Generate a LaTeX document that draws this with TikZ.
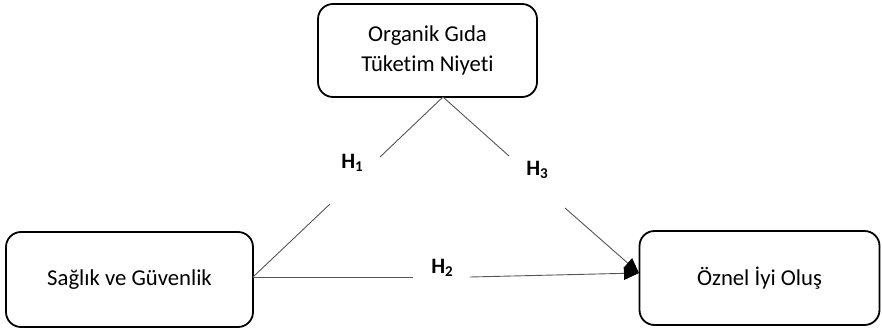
\documentclass[tikz,border=0pt]{standalone}
\usepackage{fontspec}
\setmainfont{Carlito}[Ligatures=NoCommon]
\usetikzlibrary{arrows.meta}
\definecolor{linegray}{RGB}{85,85,85}
\tikzset{
  box/.style={draw=black, line width=1.8pt, rounded corners=15pt, align=center, inner sep=0pt,
    font=\fontsize{22.7}{30}\selectfont},
  conn/.style={draw=linegray, line width=0.9pt},
  arr/.style={conn, -{Triangle[length=15pt,width=13pt,color=black,fill=black]}},
  hlabel/.style={font=\fontsize{22}{26}\selectfont\bfseries, inner sep=0pt}
}
\newcommand{\hsub}[1]{H\raisebox{-0.25ex}{\fontsize{15}{15}\selectfont #1}}
\begin{document}
\begin{tikzpicture}[x=1pt,y=-1pt]
\useasboundingbox (0,0) rectangle (882,329);
\node[box, minimum width=219pt, minimum height=93pt] (top) at (427.5,50.5) {Organik Gıda\\Tüketim Niyeti};
\node[box, minimum width=247pt, minimum height=95pt] (left) at (129.5,279.5) {Sağlık ve Güvenlik};
\node[box, minimum width=240pt, minimum height=94pt] (right) at (759.5,278) {Öznel İyi Oluş};
% points
\coordinate (apex) at (443,97);
\coordinate (lin) at (253,277);
\coordinate (tip) at (639,273);
\coordinate (h1a) at (380,157);
\coordinate (h1b) at (330,204);
\coordinate (h3a) at (509,156);
\coordinate (h3b) at (565,208);
\coordinate (h2a) at (413,277);
\coordinate (h2b) at (470,277);
% labels
\node[hlabel] (H1) at (352,163) {\hsub{1}};
\node[hlabel] (H3) at (537,170) {\hsub{3}};
\node[hlabel] (H2) at (442,268) {\hsub{2}};
% connectors
\draw[conn] (apex) -- (h1a);
\draw[conn] (h1b) -- (lin);
\draw[conn] (apex) -- (h3a);
\draw[arr] (h3b) -- (tip);
\draw[conn] (lin) -- (h2a);
\draw[arr] (h2b) -- (tip);
\end{tikzpicture}
\end{document}
